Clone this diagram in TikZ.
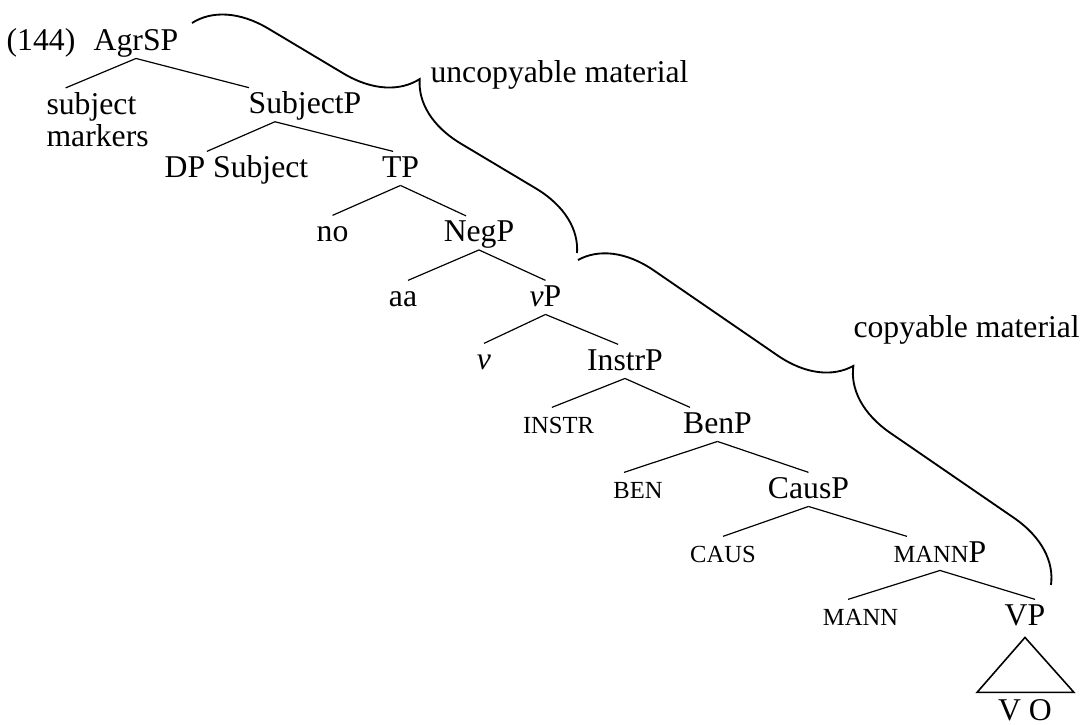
\documentclass[tikz,border=0pt]{standalone}
\usepackage{fontspec}
\setmainfont{Liberation Serif}
\usetikzlibrary{decorations.pathreplacing}
\newcommand{\smc}[1]{{\fontsize{9.3}{11}\selectfont #1}}
\tikzset{
  catnode/.style={anchor=base, inner sep=0pt, text height=9.5pt, text depth=3pt},
  treeline/.style={line width=0.45pt},
  bracket/.style={decorate, decoration={brace, amplitude=26pt}, line width=0.7pt}
}

\begin{document}
\begin{tikzpicture}[x=3.785pt, y=-3.785pt, font=\fontsize{12}{12.2}\selectfont]
    \useasboundingbox (0,0) rectangle (108.6,72.5);

    \node[catnode] (exnum) at (4.1,5.0) {(144)};
    \node[catnode] (agrsp) at (13.6,5.0) {AgrSP};
    \node[anchor=north west, inner sep=0pt, align=left] (subjmark) at (4.6,9.16) {subject\\markers};
    \node[catnode] (subjp) at (30.5,11.33) {SubjectP};
    \node[catnode] (dpsubj) at (23.65,17.7) {DP Subject};
    \node[catnode] (tp) at (40.05,17.7) {TP};
    \node[catnode] (no) at (33.25,24.1) {no};
    \node[catnode] (negp) at (47.9,24.15) {NegP};
    \node[catnode] (aa) at (40.3,30.6) {aa};
    \node[catnode] (littlevp) at (54.55,30.6) {\textit{v}P};
    \node[catnode] (littlev) at (48.4,36.9) {\textit{v}};
    \node[catnode] (instrp) at (62.5,37.0) {InstrP};
    \node[catnode] (instr) at (55.85,43.3) {\smc{INSTR}};
    \node[catnode] (benp) at (71.75,43.3) {BenP};
    \node[catnode] (ben) at (63.8,49.8) {\smc{BEN}};
    \node[catnode] (causp) at (80.85,49.8) {CausP};
    \node[catnode] (caus) at (72.3,56.2) {\smc{CAUS}};
    \node[catnode] (mannp) at (94.0,56.2) {\smc{MANN}P};
    \node[catnode] (mann) at (86.05,62.5) {\smc{MANN}};
    \node[catnode] (vp) at (102.5,62.5) {VP};
    \node[catnode] (vo) at (102.5,72.0) {V O};

    \draw[treeline] (agrsp.south) -- ([xshift=-12.1pt,yshift=1.4pt]subjmark.north);
    \draw[treeline] (agrsp.south) -- ([xshift=-21.2pt]subjp.north);
    \draw[treeline] ([xshift=-11.4pt]subjp.south) -- ([xshift=-11.2pt]dpsubj.north);
    \draw[treeline] ([xshift=-11.4pt]subjp.south) -- ([xshift=-2.8pt]tp.north);
    \draw[treeline] (tp.south) -- (no.north);
    \draw[treeline] (tp.south) -- ([xshift=-4.9pt]negp.north);
    \draw[treeline] (negp.south) -- ([xshift=1.9pt]aa.north);
    \draw[treeline] (negp.south) -- (littlevp.north);
    \draw[treeline] (littlevp.south) -- (littlev.north);
    \draw[treeline] (littlevp.south) -- ([xshift=-2.6pt]instrp.north);
    \draw[treeline] (instrp.south) -- ([xshift=-2.5pt]instr.north);
    \draw[treeline] (instrp.south) -- ([xshift=-10.4pt]benp.north);
    \draw[treeline] (benp.south) -- ([xshift=-5.3pt]ben.north);
    \draw[treeline] (benp.south) -- (causp.north);
    \draw[treeline] (causp.south) -- (caus.north);
    \draw[treeline] (causp.south) -- ([xshift=-12.5pt]mannp.north);
    \draw[treeline] (mannp.south) -- ([xshift=-4.7pt]mann.north);
    \draw[treeline] (mannp.south) -- ([xshift=3.8pt]vp.north);
    \draw[line width=0.6pt] ([yshift=-1.5pt]vp.south) -- ++(-4.8,5.5) -- ++(9.7,0) -- cycle;

    \coordinate (uncopytop) at (19.2,2.3);
    \coordinate (uncopybot) at (57.7,25.3);
    \coordinate (copytop) at (57.8,26.0);
    \coordinate (copybot) at (105.1,58.5);
    \draw[bracket] (uncopytop) -- (uncopybot);
    \draw[bracket] (copytop) -- (copybot);
    \node[anchor=base west, inner sep=0pt] (uncopylabel) at (43.0,8.2) {uncopyable material};
    \node[anchor=base west, inner sep=0pt] (copylabel) at (85.3,33.7) {copyable material};
\end{tikzpicture}
\end{document}
